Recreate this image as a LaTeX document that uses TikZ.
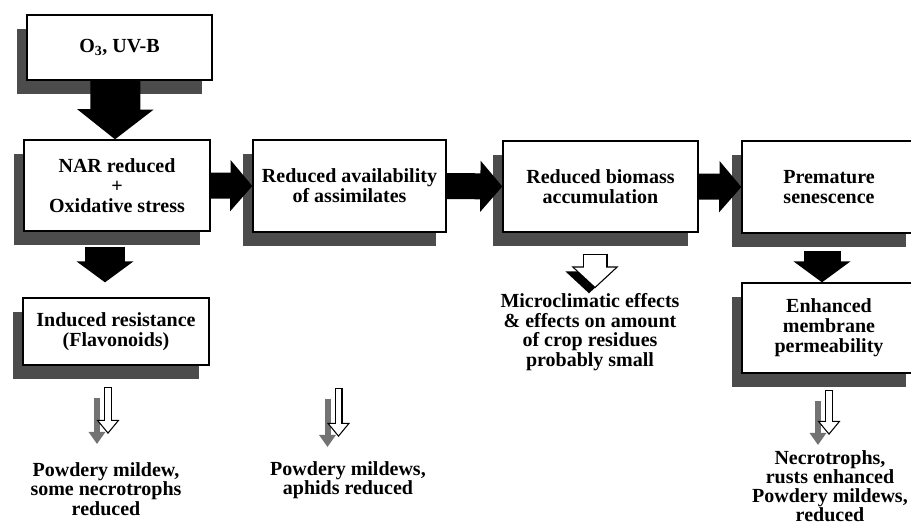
\documentclass[tikz,border=0pt]{standalone}
\usepackage{fontspec}
\setmainfont{Liberation Serif}
\usetikzlibrary{arrows.meta, shadows, positioning}

\begin{document}
\begin{tikzpicture}[x = 1pt, y = -1pt,
    box/.style = {draw, line width = 1.3pt, fill = white, align = center, inner sep = 0pt,
      font = \fontsize{20}{20}\selectfont\bfseries,
      drop shadow = {shadow xshift = -10pt, shadow yshift = -14pt, fill = black!70, opacity = 1}},
    txt/.style = {align = center, inner sep = 0pt, font = \fontsize{20}{19.5}\selectfont\bfseries}]

    \clip (0,0) rectangle (911,529);

    % boxes
    \node [box, minimum width = 185pt, minimum height = 65pt] (src) at (119.5,47.5) {O\textsubscript{3}, UV-B};
    \node [box, minimum width = 186pt, minimum height = 91pt] (nar) at (117,185.5) {NAR reduced\\+\\Oxidative stress};
    \node [box, minimum width = 193pt, minimum height = 92pt] (avail) at (349.5,186) {Reduced availability\\of assimilates};
    \node [box, minimum width = 195pt, minimum height = 91pt] (biomass) at (600.5,186.5) {Reduced biomass\\accumulation};
    \node [box, minimum width = 174pt, minimum height = 92pt] (senes) at (829,187) {Premature\\senescence};
    \node [box, minimum width = 186pt, minimum height = 67pt] (induced) at (116,331.5) {Induced resistance\\(Flavonoids)};
    \node [box, minimum width = 174pt, minimum height = 90pt] (membrane) at (829,328) {Enhanced\\membrane\\permeability};

    % plain texts
    \node [txt] (micro) at (590,332) {Microclimatic effects\\\& effects on amount\\of crop residues\\probably small};
    \node [txt] (mildew) at (106,489) {Powdery mildew,\\some necrotrophs\\reduced};
    \node [txt] (aphids) at (348,480) {Powdery mildews,\\aphids reduced};
    \node [txt] (necro) at (830,467) {Necrotrophs,\\rusts enhanced};
    \node [txt] (mildews) at (830,505) {Powdery mildews,\\reduced};

    % black block arrows
    \draw [line width = 50pt, -{Triangle[width = 75pt, length = 30pt]}] ([xshift = -4pt]src.south) -- ([xshift = -2pt]nar.north);
    \foreach \a/\b in {nar/avail, avail/biomass, biomass/senes}
      \draw [line width = 26pt, -{Triangle[width = 50pt, length = 22pt]}] (\a.east) -- (\b.west);
    \draw [line width = 40pt, -{Triangle[width = 56pt, length = 21pt]}, shorten <= 15pt, shorten >= 15pt]
      ([xshift = -12pt]nar.south) -- ([xshift = -11pt]induced.north);
    \draw [line width = 37pt, -{Triangle[width = 56pt, length = 21pt]}, shorten <= 17pt]
      ([xshift = -7pt]senes.south) -- ([xshift = -7pt]membrane.north);

    % white block arrow
    \draw [line width = 25pt, -{Triangle[width = 46pt, length = 22pt]}, shorten <= 32pt, shorten >= 5pt]
      ([xshift = -11.5pt, yshift = -5pt]biomass.south) -- ([xshift = -1pt, yshift = -5pt]micro.north);
    \draw [line width = 25pt, -{Triangle[width = 46pt, length = 22pt]}, shorten <= 21pt, shorten >= 5pt]
      ([xshift = -5.5pt]biomass.south) -- ([xshift = 5pt]micro.north);
    \draw [white, line width = 22.6pt, -{Triangle[width = 40pt, length = 19.1pt]}, shorten <= 22.2pt, shorten >= 6.7pt]
      ([xshift = -5.5pt]biomass.south) -- ([xshift = 5pt]micro.north);

    % thin hollow arrows with grey shadow
    \coordinate (in1) at (108,387);   \coordinate (out1) at (108,434);
    \coordinate (in2) at (338.5,388); \coordinate (out2) at (338.5,437);
    \coordinate (in3) at (829,390);   \coordinate (out3) at (829,435);
    \foreach \i in {1,2,3} {
      \draw [black!55, line width = 6pt, -{Triangle[width = 16pt, length = 12pt]}]
        ([xshift = -11pt, yshift = -11pt]in\i) -- ([xshift = -11pt, yshift = -10pt]out\i);
      \draw [line width = 8pt, -{Triangle[width = 22pt, length = 14pt]}] (in\i) -- (out\i);
      \draw [white, line width = 5.6pt, -{Triangle[width = 17.1pt, length = 10.9pt]}, shorten <= 1.2pt, shorten >= 1.9pt] (in\i) -- (out\i);
    }
\end{tikzpicture}
\end{document}
